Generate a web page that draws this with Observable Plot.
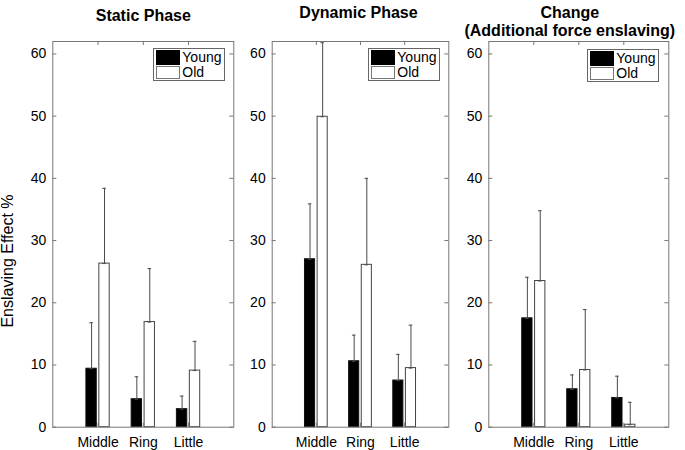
<!DOCTYPE html>
<html>
<head>
<meta charset="utf-8">
<script src="https://cdn.jsdelivr.net/npm/d3@7"></script>
<script src="https://cdn.jsdelivr.net/npm/@observablehq/plot@0.6"></script>
<style>
  body { margin: 0; background: #fff; }
  #chart { position: relative; width: 685px; height: 450px; font-family: "Liberation Sans", Arial, Helvetica, sans-serif; }
  #chart svg { position: absolute; top: 0; overflow: visible; }
  .legend { position: absolute; width: 72px; height: 33px; box-sizing: border-box; border: 1px solid #666; background: #fff; font-size: 14px; }
  .legend .sw { position: absolute; left: 2px; width: 24px; box-sizing: border-box; }
  .legend .lb { position: absolute; left: 28px; line-height: 16px; color: #000; }
</style>
</head>
<body>
<div id="chart"></div>
<script>
// ---- data ----
const fingers = ["Middle", "Ring", "Little"];
const groups = ["Young", "Old"];
const titles = ["Static Phase", "Dynamic Phase", "Change"];
const subtitle3 = "(Additional force enslaving)";
const yLabel = "Enslaving Effect %";
const yTicks = [0, 10, 20, 30, 40, 50, 60];

const staticYoung   = [9.4, 4.5, 2.9];
const staticYoungSD = [7.4, 3.6, 2.1];
const staticOld     = [26.3, 16.9, 9.1];
const staticOldSD   = [12.1, 8.6, 4.7];

const dynamicYoung   = [27.0, 10.6, 7.5];
const dynamicYoungSD = [8.9, 4.2, 4.2];
const dynamicOld     = [49.9, 26.1, 9.5];
const dynamicOldSD   = [11.9, 13.9, 6.9];

const changeYoung   = [17.5, 6.1, 4.7];
const changeYoungSD = [6.6, 2.3, 3.5];
const changeOld     = [23.5, 9.2, 0.4];
const changeOldSD   = [11.3, 9.7, 3.6];

// ---- layout ----
const H = 450, MT = 41, MB = 23.3;
const layouts = [
  {left: 0,   width: 240, ml: 52.3, mr: 6.7,  legendLeft: 153.3, legendTop: 48.3},
  {left: 240, width: 215, ml: 31.7, mr: 6.7,  legendLeft: 368.3, legendTop: 48.3},
  {left: 455, width: 230, ml: 33.3, mr: 16.7, legendLeft: 587.3, legendTop: 49}
];
const series = [
  [staticYoung, staticYoungSD, staticOld, staticOldSD],
  [dynamicYoung, dynamicYoungSD, dynamicOld, dynamicOldSD],
  [changeYoung, changeYoungSD, changeOld, changeOldSD]
];

const offset = {Young: -0.143, Old: 0.143};
const halfW = 0.1145, capHalf = 0.04;
const axisColor = "#777", errColor = "#4a4a4a";

function rowsFor(s) {
  const rows = [];
  fingers.forEach((f, i) => {
    rows.push({finger: f, pos: i + 1, group: "Young", mean: s[0][i], sd: s[1][i]});
    rows.push({finger: f, pos: i + 1, group: "Old", mean: s[2][i], sd: s[3][i]});
  });
  return rows;
}

const chart = document.getElementById("chart");

layouts.forEach((L, p) => {
  const rows = rowsFor(series[p]);
  const fh = H - MT - MB;
  const fw = L.width - L.ml - L.mr;
  const cx = d => d.pos + offset[d.group];
  const marks = [
    Plot.rectY(rows.filter(d => d.group === "Young"), {
      x1: d => cx(d) - halfW, x2: d => cx(d) + halfW, y1: 0, y2: "mean",
      fill: "#000", stroke: "#111", strokeWidth: 1
    }),
    Plot.rectY(rows.filter(d => d.group === "Old"), {
      x1: d => cx(d) - halfW, x2: d => cx(d) + halfW, y1: 0, y2: "mean",
      fill: "#fff", stroke: "#444", strokeWidth: 1
    }),
    Plot.ruleX(rows, {x: cx, y1: "mean", y2: d => d.mean + d.sd, stroke: errColor}),
    Plot.ruleY(rows, {x1: d => cx(d) - capHalf, x2: d => cx(d) + capHalf, y: d => d.mean + d.sd, stroke: errColor}),
    Plot.ruleY(rows, {x1: d => cx(d) - capHalf, x2: d => cx(d) + capHalf, y: "mean", stroke: errColor}),
    // inward ticks
    Plot.tickY(yTicks, {y: d => d, insetRight: fw - 4, stroke: axisColor}),
    Plot.tickY(yTicks, {y: d => d, insetLeft: fw - 4, stroke: axisColor}),
    Plot.tickX([1, 2, 3], {x: d => d, insetBottom: fh - 4, stroke: axisColor}),
    Plot.tickX([1, 2, 3], {x: d => d, insetTop: fh - 4, stroke: axisColor}),
    Plot.frame({stroke: axisColor}),
    Plot.axisY({ticks: yTicks, tickSize: 0, tickPadding: 6.5, label: null, fontSize: 14}),
    Plot.axisX({ticks: [1, 2, 3], tickFormat: d => fingers[d - 1], tickSize: 0, tickPadding: 10, label: null, fontSize: 14})
  ];
  if (p === 0) {
    marks.push(Plot.text([titles[0]], {text: d => d, frameAnchor: "top", dy: -32, fontWeight: "bold", fontSize: 16}));
    marks.push(Plot.text([yLabel], {text: d => d, frameAnchor: "left", textAnchor: "middle", rotate: -90, dx: -45.3, dy: 26.7, fontSize: 16}));
  } else if (p === 1) {
    marks.push(Plot.text([titles[1]], {text: d => d, frameAnchor: "top", dy: -35, dx: -2, fontWeight: "bold", fontSize: 16}));
  } else {
    marks.push(Plot.text([titles[2]], {text: d => d, frameAnchor: "top", dy: -35, dx: -9, fontWeight: "bold", fontSize: 16}));
    marks.push(Plot.text([subtitle3], {text: d => d, frameAnchor: "top", dy: -17, dx: -9, fontWeight: "bold", fontSize: 16}));
  }
  const svg = Plot.plot({
    width: L.width, height: H,
    marginTop: MT, marginBottom: MB, marginLeft: L.ml, marginRight: L.mr,
    x: {type: "linear", domain: [0, 4], axis: null},
    y: {type: "linear", domain: [0, 62], axis: null},
    style: {fontFamily: "'Liberation Sans', Arial, Helvetica, sans-serif", fontSize: "14px", color: "#000", background: "transparent", overflow: "visible"},
    marks
  });
  svg.style.left = L.left + "px";
  chart.appendChild(svg);

  // legend
  const lg = document.createElement("div");
  lg.className = "legend";
  lg.style.left = L.legendLeft + "px";
  lg.style.top = L.legendTop + "px";
  const sw1 = document.createElement("div");
  sw1.className = "sw"; sw1.style.top = "1px"; sw1.style.height = "15px"; sw1.style.background = "#000";
  const sw2 = document.createElement("div");
  sw2.className = "sw"; sw2.style.top = "17px"; sw2.style.height = "13px"; sw2.style.background = "#fff"; sw2.style.border = "1px solid #777";
  const t1 = document.createElement("div");
  t1.className = "lb"; t1.style.top = "0px"; t1.textContent = groups[0];
  const t2 = document.createElement("div");
  t2.className = "lb"; t2.style.top = "15px"; t2.textContent = groups[1];
  lg.append(sw1, sw2, t1, t2);
  chart.appendChild(lg);
});
</script>
</body>
</html>
